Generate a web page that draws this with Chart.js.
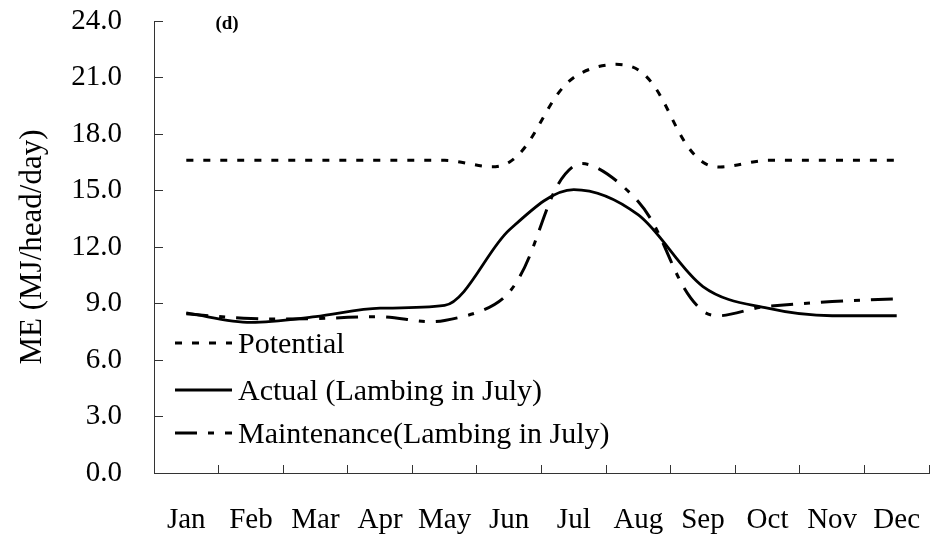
<!DOCTYPE html>
<html>
<head>
<meta charset="utf-8">
<script src="https://cdn.jsdelivr.net/npm/chart.js@4.4.1/dist/chart.umd.min.js"></script>
<style>
  html, body { margin: 0; padding: 0; background: #fff; }
</style>
</head>
<body>
<canvas id="myChart" width="939" height="539"></canvas>
<script>
  // meses (rótulos do eixo x)
  const months = ['Jan', 'Feb', 'Mar', 'Apr', 'May', 'Jun', 'Jul', 'Aug', 'Sep', 'Oct', 'Nov', 'Dec']

  // ME (MJ/head/day)
  const potential = [16.6, 16.6, 16.6, 16.6, 16.6, 16.5, 21.0, 21.4, 16.5, 16.6, 16.6, 16.6]
  const actual = [8.5, 8.0, 8.3, 8.75, 8.9, 12.9, 15.05, 13.7, 9.9, 8.75, 8.35, 8.35]
  const maintenance = [8.45, 8.2, 8.2, 8.3, 8.1, 9.6, 16.3, 14.4, 8.6, 8.85, 9.1, 9.25]

  // eixo y: 0.0 a 24.0 de 3 em 3
  const yMin = 0
  const yMax = 24
  const yStep = 3

  const serif = '"Liberation Serif", "Times New Roman", serif'
  Chart.defaults.font.family = serif
  Chart.defaults.color = '#000'

  // legenda dentro da área do gráfico, canto inferior esquerdo
  const insideLegend = {
    id: 'insideLegend',
    afterDraw (chart) {
      const { ctx, chartArea } = chart
      const rows = [chartArea.bottom - 130, chartArea.bottom - 83, chartArea.bottom - 40]
      const x0 = chartArea.left + 21
      const x1 = x0 + 57
      ctx.save()
      chart.data.datasets.forEach((ds, i) => {
        const y = rows[i]
        ctx.beginPath()
        ctx.setLineDash(ds.borderDash || [])
        ctx.lineWidth = ds.borderWidth
        ctx.strokeStyle = ds.borderColor
        ctx.moveTo(x0, y)
        ctx.lineTo(x1, y)
        ctx.stroke()
        ctx.setLineDash([])
        ctx.fillStyle = '#000'
        ctx.font = '30px ' + serif
        ctx.textAlign = 'left'
        ctx.textBaseline = 'middle'
        ctx.fillText(ds.label, x1 + 6, y + 2)
      })
      ctx.restore()
    }
  }

  // rótulo do painel "(d)"
  const panelLabel = {
    id: 'panelLabel',
    afterDraw (chart) {
      const { ctx, chartArea } = chart
      ctx.save()
      ctx.fillStyle = '#000'
      ctx.font = 'bold 19px ' + serif
      ctx.textAlign = 'center'
      ctx.textBaseline = 'middle'
      ctx.fillText('(d)', chartArea.left + 73, chartArea.top + 3)
      ctx.restore()
    }
  }

  const ctx = document.getElementById('myChart')

  new Chart(ctx, {
    type: 'line',
    data: {
      labels: months,
      datasets: [
        {
          label: 'Potential',
          data: potential,
          borderColor: '#000',
          borderWidth: 3,
          borderDash: [7, 10],
          pointRadius: 0,
          tension: 0.35
        },
        {
          label: 'Actual (Lambing in July)',
          data: actual,
          borderColor: '#000',
          borderWidth: 2.8,
          pointRadius: 0,
          cubicInterpolationMode: 'monotone'
        },
        {
          label: 'Maintenance(Lambing in July)',
          data: maintenance,
          borderColor: '#000',
          borderWidth: 3,
          borderDash: [22, 11, 6, 11],
          pointRadius: 0,
          tension: 0.35
        }
      ]
    },
    options: {
      responsive: false,
      animation: false,
      layout: {
        padding: { top: 21, right: 10, left: 0, bottom: 0 }
      },
      plugins: {
        legend: { display: false },
        tooltip: { enabled: false }
      },
      scales: {
        x: {
          offset: true,
          grid: { offset: true, drawOnChartArea: false, tickLength: -8, color: '#333' },
          border: { color: '#333', width: 1 },
          ticks: { padding: 38, autoSkip: false, maxRotation: 0, font: { size: 29 } },
          afterFit: (s) => {
            s.height = 66
            s.paddingLeft = 0
            s.paddingRight = 0
          }
        },
        y: {
          min: yMin,
          max: yMax,
          grid: { drawOnChartArea: false, tickLength: -9, color: '#333' },
          border: { color: '#333', width: 1 },
          ticks: {
            stepSize: yStep,
            padding: 41,
            font: { size: 29 },
            callback: (v) => v.toFixed(1)
          },
          title: {
            display: true,
            text: 'ME (MJ/head/day)',
            font: { size: 31 },
            padding: { top: 14, bottom: 0 }
          },
          afterFit: (s) => {
            s.width = 154
            s.paddingTop = 0
            s.paddingBottom = 0
          }
        }
      }
    },
    plugins: [insideLegend, panelLabel]
  })
</script>
</body>
</html>
